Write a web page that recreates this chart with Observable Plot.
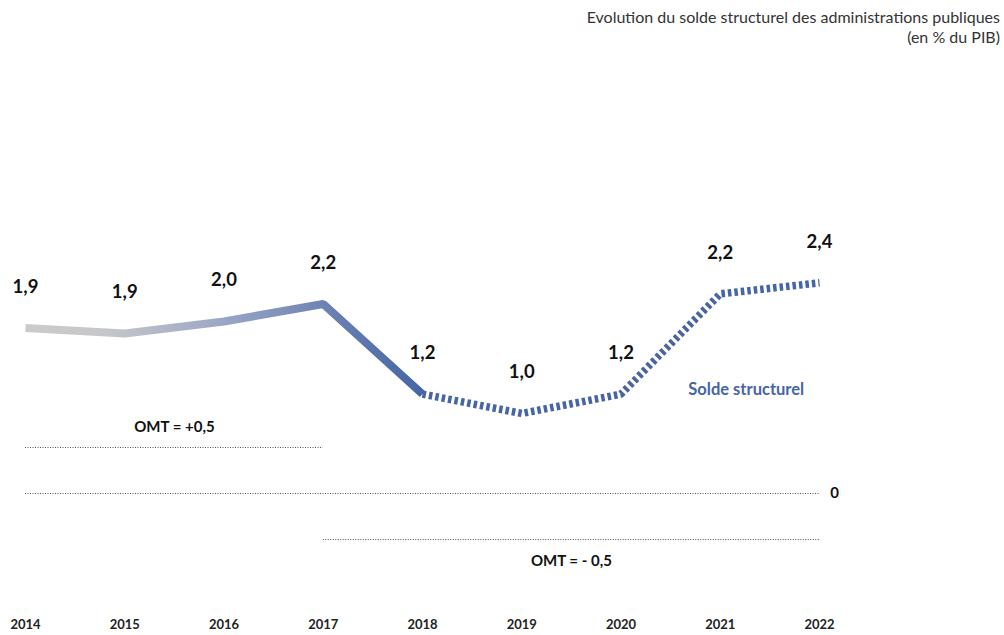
<!DOCTYPE html>
<html>
<head>
<meta charset="utf-8">
<script src="https://cdn.jsdelivr.net/npm/d3@7"></script>
<script src="https://cdn.jsdelivr.net/npm/@observablehq/plot@0.6"></script>
<style>
  html, body { margin: 0; padding: 0; background: #fff; }
  #wrap { position: relative; width: 1004px; height: 635px; overflow: hidden; font-family: Lato, "Noto Sans", sans-serif; }
  #title { position: absolute; top: 7px; right: 4px; text-align: right; font-size: 16px; line-height: 20px; color: #333; }
  #chart { position: absolute; left: 0; top: 0; }
</style>
</head>
<body>
<div id="wrap">
  <div id="chart"></div>
  <div id="title">Evolution du solde structurel des administrations publiques<br>(en % du PIB)</div>
</div>
<script>
// Data
const years = [2014, 2015, 2016, 2017, 2018, 2019, 2020, 2021, 2022];
const solde = [1.80, 1.74, 1.87, 2.06, 1.08, 0.87, 1.08, 2.17, 2.29];
const labels = ["1,9", "1,9", "2,0", "2,2", "1,2", "1,0", "1,2", "2,2", "2,4"];
const lastObserved = 2018; // solid up to here, dashed after

const refLevels = [0.5, 0, -0.5];
const refStart = [2014, 2014, 2017];
const refEnd = [2017, 2022, 2022];
const refLabels = ["OMT = +0,5", "0", "OMT = - 0,5"];

const rows = years.map((y, i) => ({year: y, value: solde[i], label: labels[i]}));
const solid = rows.filter(d => d.year <= lastObserved);
const dashed = rows.filter(d => d.year >= lastObserved);
const refs = refLevels.map((v, i) => ({level: v, x1: refStart[i], x2: refEnd[i], label: refLabels[i], mid: (refStart[i] + refEnd[i]) / 2}));

const blue = "#4565a5";

const plot = Plot.plot({
  width: 1004,
  height: 635,
  marginLeft: 25,
  marginRight: 185,
  marginTop: 60,
  marginBottom: 20,
  style: {fontFamily: "Lato, 'Noto Sans', sans-serif", background: "transparent", overflow: "visible"},
  x: {domain: [2014, 2022], range: [25, 819]},
  y: {domain: [0, 1], range: [493, 401], axis: null},
  marks: [
    Plot.ruleY(refs, {y: "level", x1: "x1", x2: "x2", stroke: "#555", strokeWidth: 1, strokeDasharray: "1,1.5"}),
    Plot.line(solid, {x: "year", y: "value", stroke: "url(#soldeGrad)", strokeWidth: 8, strokeLinejoin: "miter", strokeLinecap: "butt"}),
    Plot.line(dashed, {x: "year", y: "value", stroke: blue, strokeWidth: 7.5, strokeDasharray: "3.5,3", strokeLinejoin: "miter", strokeLinecap: "butt"}),
    Plot.text(rows, {x: "year", y: "value", text: "label", dy: -41, fontSize: 18.5, fontWeight: 700, fill: "#111"}),
    Plot.text(refs.filter(d => d.level > 0), {x: "mid", y: "level", text: "label", dy: -20, fontSize: 15, fontWeight: 700, fill: "#111"}),
    Plot.text(refs.filter(d => d.level < 0), {x: "mid", y: "level", text: "label", dy: 22, fontSize: 15, fontWeight: 700, fill: "#111"}),
    Plot.text(refs.filter(d => d.level === 0), {x: "x2", y: "level", text: "label", dx: 15, fontSize: 15, fontWeight: 700, fill: "#111"}),
    Plot.text(rows.filter(d => d.year === 2021), {x: "year", y: "value", text: () => "Solde structurel", dx: 26, dy: 96, fontSize: 16.5, fontWeight: 700, fill: blue}),
    Plot.axisX({ticks: years, tickSize: 0, tickPadding: 4, tickFormat: d => String(d), fontSize: 13, fontWeight: 700, fill: "#222", label: null})
  ]
});

// gradient along the solid segment
const xs = plot.scale("x");
const svg = d3.select(plot);
const defs = svg.insert("defs", ":first-child");
const g = defs.append("linearGradient")
  .attr("id", "soldeGrad")
  .attr("gradientUnits", "userSpaceOnUse")
  .attr("x1", xs.apply(2014)).attr("x2", xs.apply(lastObserved))
  .attr("y1", 0).attr("y2", 0);
g.append("stop").attr("offset", "0%").attr("stop-color", "#cbcbcb");
g.append("stop").attr("offset", "20%").attr("stop-color", "#c6c7ca");
g.append("stop").attr("offset", "50%").attr("stop-color", "#9aa6c4");
g.append("stop").attr("offset", "75%").attr("stop-color", "#6e82b5");
g.append("stop").attr("offset", "100%").attr("stop-color", blue);

document.getElementById("chart").appendChild(plot);
</script>
</body>
</html>
